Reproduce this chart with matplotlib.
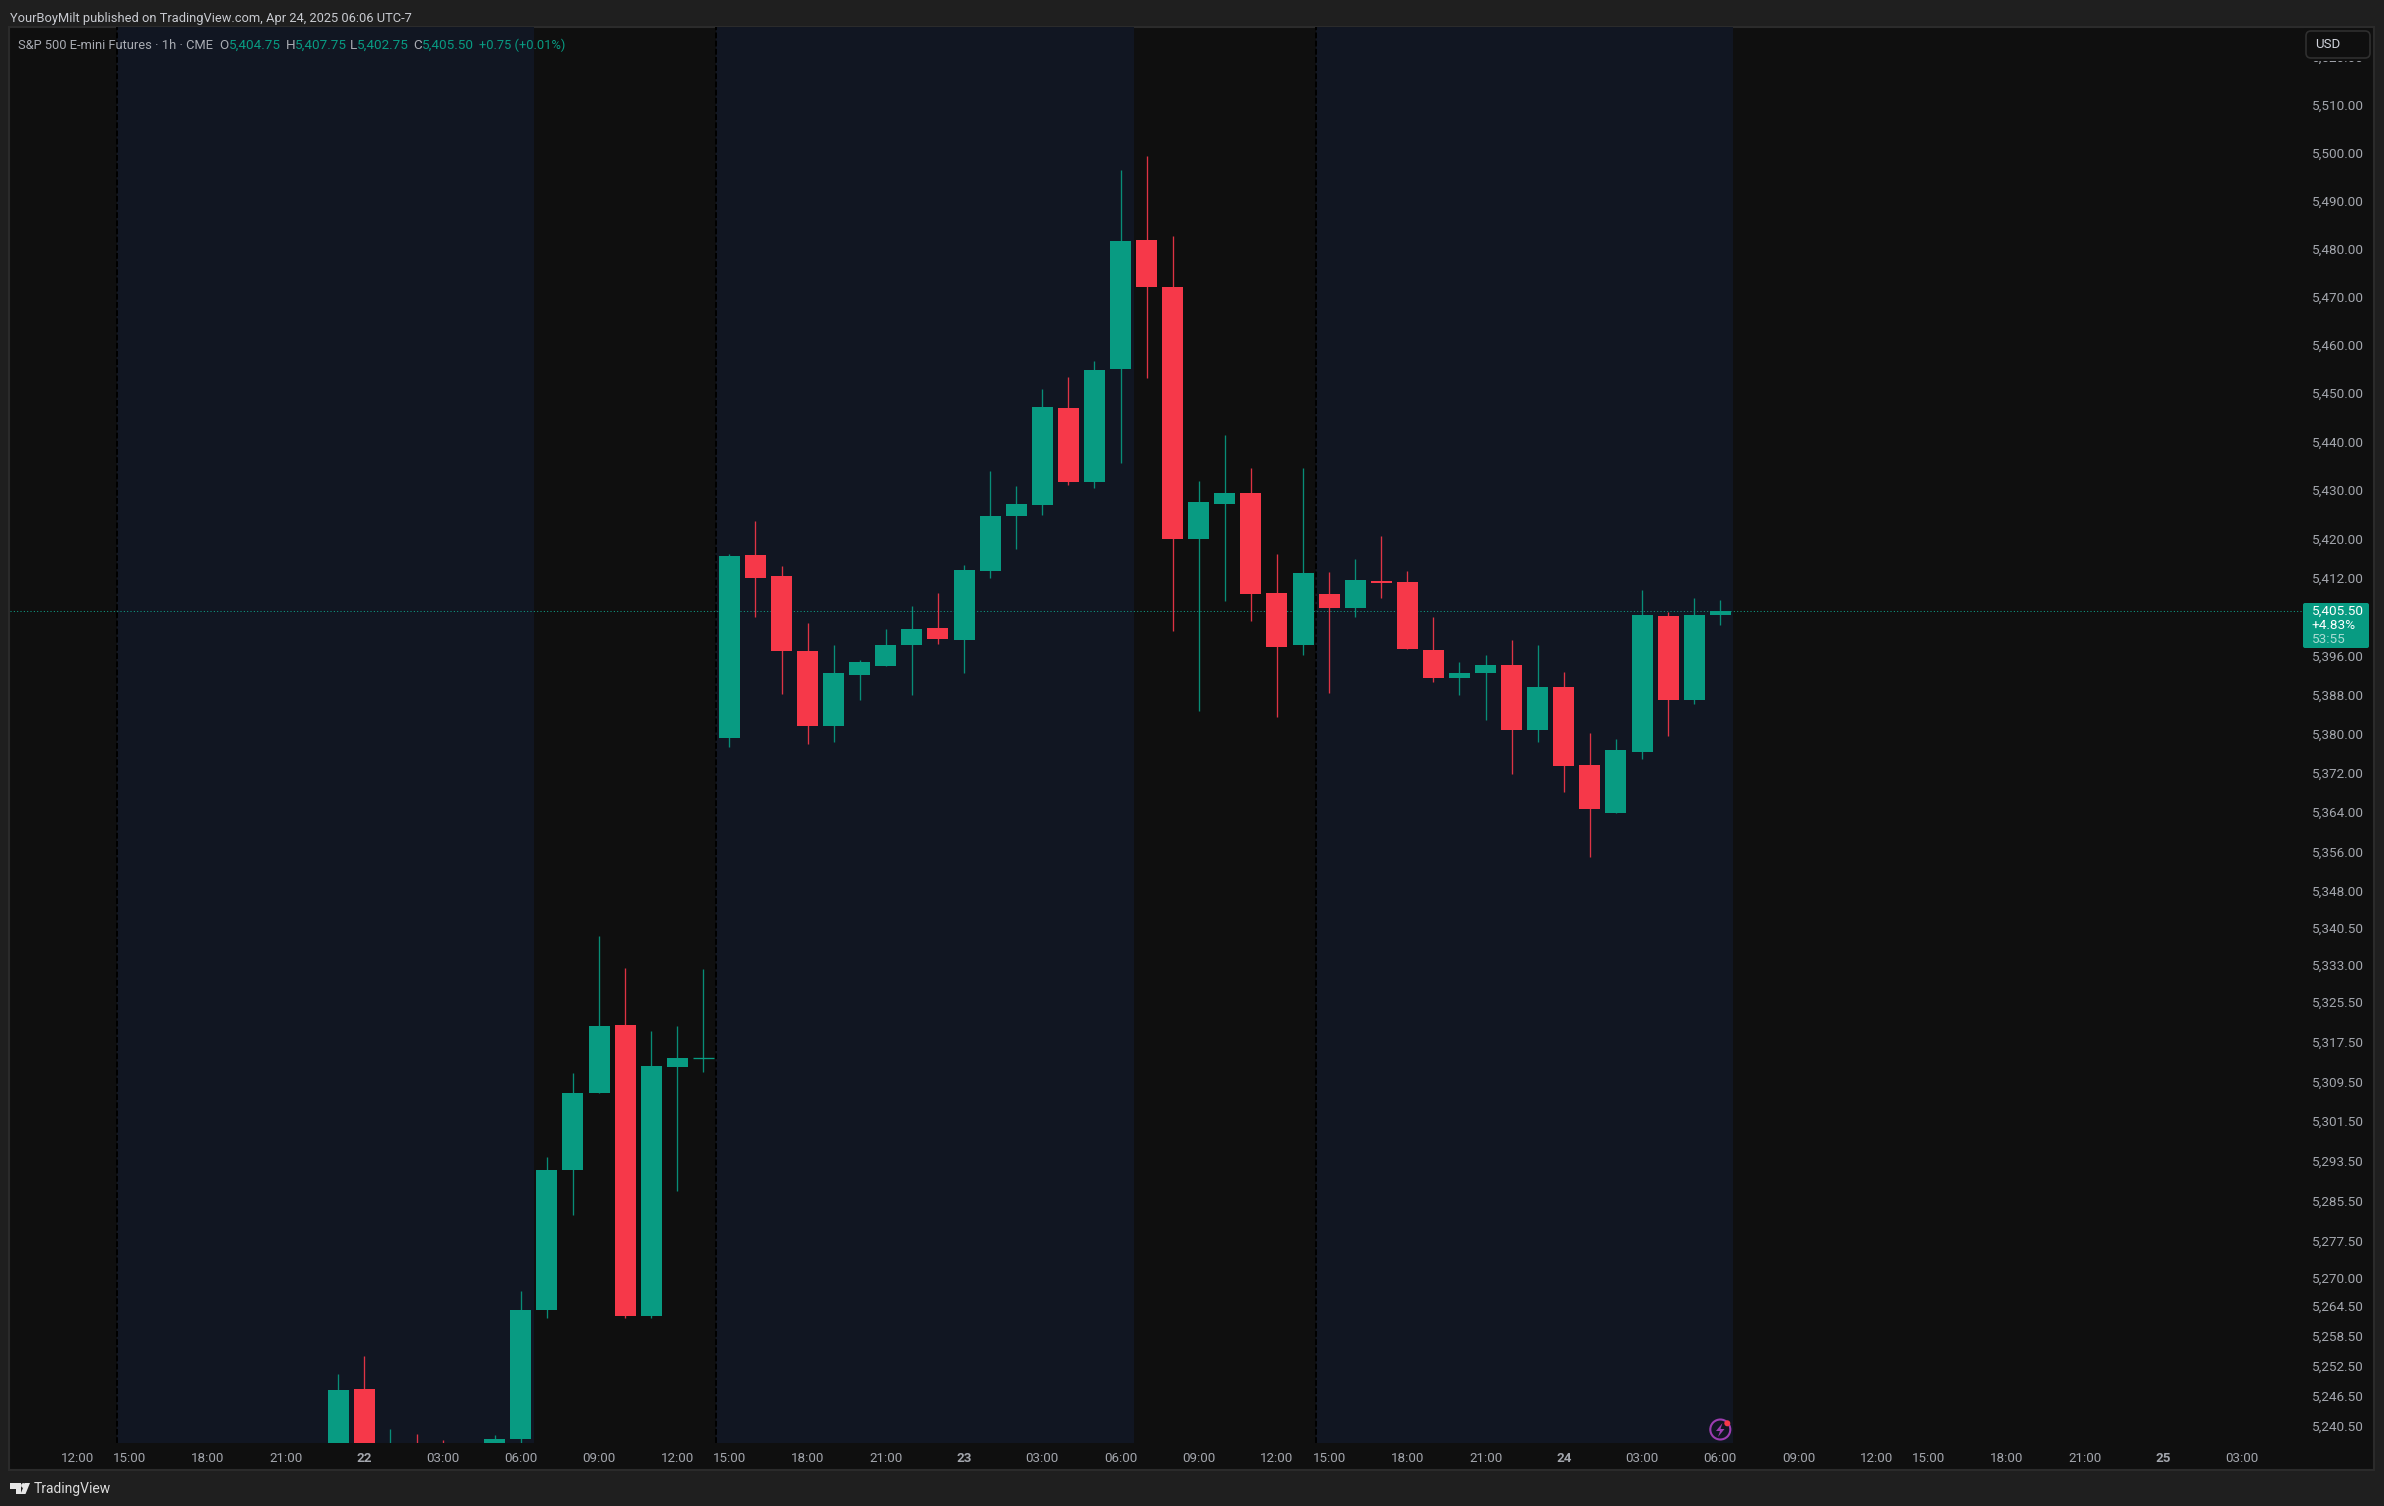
import matplotlib
matplotlib.use("Agg")
import matplotlib.pyplot as plt
from matplotlib.patches import Rectangle, FancyBboxPatch, Circle, Polygon
from matplotlib.ticker import FixedLocator, FixedFormatter, NullLocator, NullFormatter
from matplotlib.transforms import ScaledTranslation

plt.rcParams["font.family"] = ["Roboto", "DejaVu Sans"]

W, H = 2384, 1506

# hourly bars, bar 0 is 23:00 on the 21st (lower part of the first bars is off the pane)
opens = [5230, 5248.25, 5232, 5236, 5235, 5231, 5234, 5238.25, 5264, 5292, 5307.5, 5321.25, 5262.75, 5312.75, 5314.5,
         5379.5, 5417, 5412.75, 5397.25, 5382, 5392.5, 5394.25, 5398.5, 5402, 5399.5, 5413.75, 5425, 5427.25, 5447.25, 5432,
         5455.5, 5482.25, 5472.5, 5420.25, 5427.5, 5429.75, 5409.25, 5398.5, 5409, 5406.25, 5411.75, 5411.5, 5397.5, 5391.75,
         5392.75, 5394.5, 5381.25, 5390, 5374, 5364.25, 5376.75, 5404.5, 5387.25, 5404.75]
highs = [5251.25, 5254.75, 5240.25, 5239.25, 5238, 5236, 5239, 5267.75, 5294.75, 5311.5, 5339.25, 5332.75, 5320, 5321, 5332.5,
         5417.25, 5424, 5414.75, 5403, 5398.5, 5395.5, 5401.75, 5406.5, 5409.25, 5415, 5434.25, 5431.25, 5451.25, 5453.75, 5457,
         5496.75, 5499.75, 5483, 5432.25, 5441.75, 5435, 5417.25, 5435, 5413.5, 5416.25, 5421, 5413.75, 5404.25, 5395,
         5396.5, 5399.5, 5398.5, 5393, 5380.5, 5379.25, 5409.75, 5405.25, 5408.25, 5407.75]
lows = [5228, 5230, 5230, 5231, 5230, 5229, 5232, 5236, 5262.5, 5283, 5307.5, 5262.5, 5262.5, 5287.75, 5311.75,
        5377.75, 5404.25, 5388.5, 5378.25, 5378.75, 5387.25, 5394.25, 5388.25, 5398.75, 5392.75, 5412.25, 5418.25, 5425.25, 5431.5, 5430.75,
        5436, 5453.5, 5401.5, 5385, 5407.5, 5403.5, 5383.75, 5396.5, 5388.75, 5404.25, 5408.25, 5397.75, 5391, 5388.25,
        5383.25, 5372.25, 5378.75, 5368.5, 5355.25, 5364.25, 5375.25, 5380, 5386.5, 5402.75]
closes = [5248, 5232, 5236, 5233, 5233, 5233.5, 5238.25, 5264, 5292, 5307.5, 5321, 5262.75, 5313, 5314.5, 5314.5,
          5416.75, 5412.25, 5397.25, 5382, 5392.75, 5395, 5398.5, 5401.75, 5399.75, 5414, 5425, 5427.5, 5447.5, 5432, 5455.25,
          5482, 5472.5, 5420.25, 5428, 5429.75, 5409, 5398.25, 5413.25, 5406.25, 5412, 5411.25, 5397.75, 5391.75, 5392.75,
          5394.5, 5381.25, 5390, 5373.75, 5365, 5377, 5404.75, 5387.25, 5404.75, 5405.5]

last_price = 5405.5

price_ticks = [5520, 5510, 5500, 5490, 5480, 5470, 5460, 5450, 5440, 5430, 5420, 5412, 5396, 5388, 5380, 5372, 5364, 5356,
               5348, 5340.5, 5333, 5325.5, 5317.5, 5309.5, 5301.5, 5293.5, 5285.5, 5277.5, 5270, 5264.5, 5258.5, 5252.5,
               5246.5, 5240.5]

time_ticks = [-10, -8, -5, -2, 1, 4, 7, 10, 13, 15, 18, 21, 24, 27, 30, 33, 36, 38, 41, 44, 47, 50, 53, 56, 59, 61, 64, 67, 70, 73]
time_labels = ["12:00", "15:00", "18:00", "21:00", "22", "03:00", "06:00", "09:00", "12:00", "15:00", "18:00", "21:00", "23",
               "03:00", "06:00", "09:00", "12:00", "15:00", "18:00", "21:00", "24", "03:00", "06:00", "09:00", "12:00",
               "15:00", "18:00", "21:00", "25", "03:00"]

# regular session bands in bar units
sessions = [(-8.5, 7.5), (14.5, 30.5), (37.5, 53.5)]

UP = "#089b82"
DOWN = "#f63849"
OUTER = "#1f1f1f"
PANE = "#0f0f0f"
BAND = "#111622"
GRID_TXT = "#a3a6ad"

fig = plt.figure(figsize=(W / 100, H / 100), dpi=100, facecolor=OUTER)

# chrome behind the chart, in pixel coordinates
back = fig.add_axes([0, 0, 1, 1], zorder=0)
back.set_xlim(0, W)
back.set_ylim(H, 0)
back.axis("off")
back.add_patch(Rectangle((9, 27), 2365, 1443, facecolor=PANE, edgecolor="#2b2b2b", lw=1.5))

# chart pane
left, right, top, bottom = 10, 2303, 27, 1443
ax = fig.add_axes([left / W, 1 - bottom / H, (right - left) / W, (bottom - top) / H], zorder=1)
ax.set_facecolor("none")
ax.set_yscale("log")
ax.set_xlim(-12.59, 75.35)
ax.set_ylim(5237.5, 5526.7)
for s in ax.spines.values():
    s.set_visible(False)

for a, b in sessions:
    ax.axvspan(a, b, color=BAND, lw=0, zorder=1)
    ax.axvline(a, color="#000000", lw=1.4, ls=(0, (3, 1.2)), zorder=2)

ax.axhline(last_price, color="#0f9d84", lw=0.75, ls=(0, (1, 2.2)), zorder=3)

for i in range(len(opens)):
    c = UP if closes[i] >= opens[i] else DOWN
    ax.vlines(i, lows[i], highs[i], color=c, lw=0.95, alpha=0.9, zorder=4)
    lo, hi = min(opens[i], closes[i]), max(opens[i], closes[i])
    if hi == lo:
        ax.hlines(lo, i - 0.4, i + 0.4, color=c, lw=0.95, zorder=5)
    else:
        ax.bar(i, hi - lo, bottom=lo, width=0.805, color=c, lw=0, zorder=5)

ax.yaxis.tick_right()
ax.yaxis.set_major_locator(FixedLocator(price_ticks))
ax.yaxis.set_major_formatter(FixedFormatter([f"{v:,.2f}" for v in price_ticks]))
ax.yaxis.set_minor_locator(NullLocator())
ax.yaxis.set_minor_formatter(NullFormatter())
ax.tick_params(axis="y", length=0, pad=6.2, labelsize=9.7, labelcolor=GRID_TXT)
ax.set_xticks(time_ticks)
ax.set_xticklabels(time_labels)
ax.tick_params(axis="x", length=0, pad=6.2, labelsize=9.6, labelcolor=GRID_TXT)
for t in ax.get_xticklabels():
    if len(t.get_text()) == 2:
        t.set_fontweight("bold")
# price labels sit a touch above their level
up_shift = ScaledTranslation(0, 2 / 100, fig.dpi_scale_trans)
for t in ax.get_yticklabels():
    t.set_transform(t.get_transform() + up_shift)

# things on top of the chart, in pixel coordinates again
over = fig.add_axes([0, 0, 1, 1], zorder=2)
over.set_xlim(0, W)
over.set_ylim(H, 0)
over.axis("off")
over.patch.set_visible(False)

over.add_patch(Rectangle((2304, 28), 68, 33, facecolor=PANE, edgecolor="none"))
over.add_patch(FancyBboxPatch((2306, 31), 64, 27, boxstyle="round,pad=0,rounding_size=5",
                              facecolor=PANE, edgecolor="#2f2f2f", lw=1.2))
over.text(2315, 44.5, "USD", color="#d1d4dc", fontsize=9.5, va="center")

over.add_patch(FancyBboxPatch((2303, 603), 66, 45, boxstyle="round,pad=0,rounding_size=2",
                              facecolor="#089b82", edgecolor="none"))
over.text(2311.5, 611.5, "5,405.50", color="white", fontsize=9.7, va="center")
over.text(2311.5, 625.5, "+4.83%", color="white", fontsize=9.7, va="center")
over.text(2311.5, 639.5, "53:55", color="white", alpha=0.65, fontsize=9.7, va="center")

over.text(10, 18.2, "YourBoyMilt published on TradingView.com, Apr 24, 2025 06:06 UTC-7", color="#c8cad0",
          fontsize=9.25, va="center")

legend_gray = "#a9acb3"
over.text(18, 45, "S&P 500 E-mini Futures · 1h · CME", color=legend_gray, fontsize=9.25, va="center")
for x, s in [(219.6, "O"), (285.7, "H"), (349.6, "L"), (413, "C")]:
    over.text(x, 45, s, color=legend_gray, fontsize=9.7, va="center")
for x, s in [(229, "5,404.75"), (294.6, "5,407.75"), (357, "5,402.75"), (421.9, "5,405.50")]:
    over.text(x, 45, s, color="#089b82", fontsize=9.7, va="center")
over.text(478.6, 45, "+0.75 (+0.01%)", color="#089b82", fontsize=9.25, va="center")

# snapshot icon
over.add_patch(Circle((1720.3, 1429.5), 10, facecolor="none", edgecolor="#9c3db0", lw=1.5))
over.add_patch(Polygon([(1722.5, 1423), (1716, 1431), (1720, 1431), (1718, 1437), (1724.5, 1429), (1720.5, 1429)],
                       facecolor="#9c3db0", edgecolor="none"))
over.add_patch(Circle((1727.3, 1423.3), 3, facecolor="#f63849", edgecolor="none"))

# footer logo
logo = "#e6e6e6"
over.add_patch(Polygon([(10, 1483), (21, 1483), (21, 1494), (15.5, 1494), (15.5, 1488.5), (10, 1488.5)], facecolor=logo, edgecolor="none"))
over.add_patch(Circle((23.5, 1485.5), 2.4, facecolor=logo, edgecolor="none"))
over.add_patch(Polygon([(25, 1483), (30, 1483), (25.5, 1494), (20.5, 1494)], facecolor=logo, edgecolor="none"))
over.text(34, 1488.7, "TradingView", color="#dcdcdc", fontsize=10, va="center")

fig.savefig("out.png", dpi=100, facecolor=OUTER)
